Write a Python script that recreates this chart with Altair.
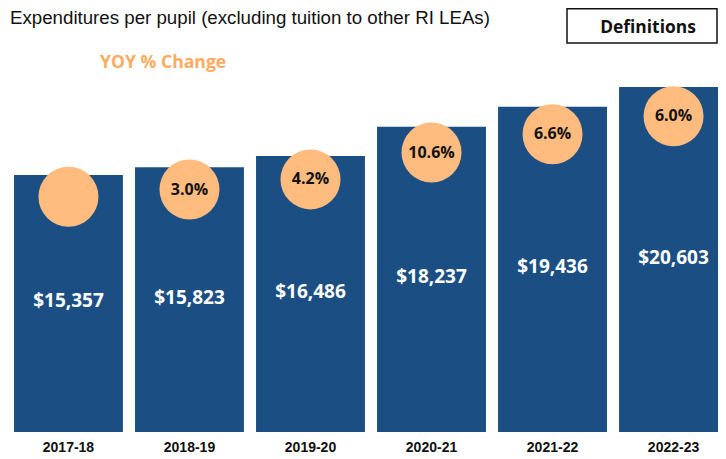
import altair as alt
import pandas as pd

years = ["2017-18", "2018-19", "2019-20", "2020-21", "2021-22", "2022-23"]
spend = [15357, 15823, 16486, 18237, 19436, 20603]
yoy = [None, "3.0%", "4.2%", "10.6%", "6.6%", "6.0%"]

TITLE = "Expenditures per pupil (excluding tuition to other RI LEAs)"
SUBTITLE = "YOY % Change"
BUTTON = "Definitions"

BAR = "#1B4F84"
CIRCLE = "#FFBC7E"
ORANGE = "#FFAB5E"

df = pd.DataFrame({"year": years, "spend": spend, "yoy": yoy})

x_enc = alt.X(
    "year:N",
    sort=years,
    scale=alt.Scale(range=[6, 720], paddingInner=0.1, paddingOuter=0),
    axis=alt.Axis(
        title=None, domain=False, ticks=False, labelAngle=0,
        labelFont="Liberation Sans", labelFontSize=14, labelFontWeight="bold",
        labelColor="#111111", labelPadding=8,
    ),
)

bar_scale = alt.Scale(domain=[0, 25329], nice=False, zero=True)
circ_scale = alt.Scale(domain=[0, 27672], nice=False, zero=True)

base = alt.Chart(df)

bars = base.mark_bar(color=BAR).encode(
    x=x_enc,
    y=alt.Y("spend:Q", scale=bar_scale, axis=None),
)

vals = base.transform_calculate(half="datum.spend / 2").mark_text(
    color="white", font="Open Sans", fontSize=19, fontWeight="bold",
    baseline="middle", dy=-2,
).encode(
    x=x_enc,
    y=alt.Y("half:Q", scale=bar_scale, axis=None),
    text=alt.Text("spend:Q", format="$,.0f"),
)

circles = base.mark_circle(color=CIRCLE, opacity=1, size=3600).encode(
    x=x_enc,
    y=alt.Y("spend:Q", scale=circ_scale, axis=None),
)

pcts = base.transform_filter("datum.yoy != null").mark_text(
    color="#111111", font="Open Sans", fontSize=16, fontWeight="bold",
    baseline="middle",
).encode(
    x=x_enc,
    y=alt.Y("spend:Q", scale=circ_scale, axis=None),
    text="yoy:N",
)

title = alt.Chart(pd.DataFrame({"t": [TITLE]})).mark_text(
    font="Liberation Sans", fontSize=18.7, color="#111111",
    align="left", baseline="alphabetic",
).encode(x=alt.value(2), y=alt.value(16), text="t:N")

sub = alt.Chart(pd.DataFrame({"t": [SUBTITLE]})).mark_text(
    font="Open Sans", fontSize=17.6, fontWeight="bold", color=ORANGE,
    align="left", baseline="alphabetic",
).encode(x=alt.value(92), y=alt.value(60), text="t:N")

box = alt.Chart(pd.DataFrame({"t": [BUTTON]})).mark_rect(
    fill="white", stroke="#111111", strokeWidth=1.5,
).encode(x=alt.value(559), x2=alt.value(709), y=alt.value(0.75), y2=alt.value(35))

btn = alt.Chart(pd.DataFrame({"t": [BUTTON]})).mark_text(
    font="Open Sans", fontSize=17.4, fontWeight="bold", color="#111111",
    align="center", baseline="middle",
).encode(x=alt.value(640), y=alt.value(19.5), text="t:N")

chart = alt.layer(bars, vals, circles, pcts, title, sub, box, btn).resolve_scale(
    y="independent"
).properties(
    width=710, height=424,
    autosize=alt.AutoSizeParams(type="none"),
    padding={"left": 0, "top": 0, "right": 0, "bottom": 27},
).configure_view(stroke=None)

chart.save("out.html", embed_options={"renderer": "svg", "actions": False})
